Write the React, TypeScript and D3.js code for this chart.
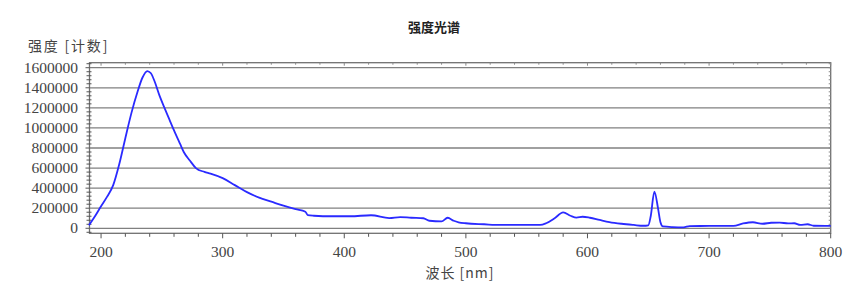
import React from "react";
import * as d3 from "d3";

const wavelengths = [190, 195, 200, 205, 210, 215, 220, 225, 230, 234, 238, 241, 244, 248, 252, 256, 260, 265, 268, 273, 278, 285, 290, 300, 310, 320, 330, 340, 350, 360, 368, 370, 375, 390, 405, 422, 437, 446, 455, 465, 470, 480, 485, 490, 494, 500, 515, 528, 545, 561, 566, 573, 580, 586, 591, 596, 602, 610, 618, 628, 638, 646, 650, 652, 655, 658, 660, 662, 670, 679, 684, 700, 720, 728, 736, 744, 751, 758, 765, 770, 775, 781, 786, 800];
const intensities = [30000, 120000, 220000, 315000, 430000, 640000, 900000, 1150000, 1360000, 1500000, 1567000, 1545000, 1465000, 1325000, 1205000, 1090000, 975000, 840000, 760000, 675000, 600000, 562000, 545000, 500000, 430000, 360000, 305000, 265000, 225000, 190000, 165000, 130000, 125000, 120000, 120000, 130000, 102000, 112000, 105000, 100000, 75000, 68000, 105000, 75000, 60000, 50000, 40000, 33000, 33000, 33000, 50000, 100000, 158000, 125000, 106000, 115000, 105000, 83000, 62000, 45000, 33000, 25000, 30000, 120000, 365000, 200000, 60000, 18000, 12000, 10000, 22000, 23000, 24000, 48000, 60000, 45000, 55000, 57000, 48000, 50000, 33000, 40000, 25000, 23000];

const yTicks = [0, 200000, 400000, 600000, 800000, 1000000, 1200000, 1400000, 1600000];
const xTicks = [200, 300, 400, 500, 600, 700, 800];
const title = "强度光谱";
const yLabel = "强度 [计数]";
const xLabel = "波长 [nm]";

export default function App() {
  const W = 864, H = 292;
  const left = 89.5, right = 830.7, top = 62.7, bottom = 233.3;
  const x = d3.scaleLinear().domain([190.5, 800]).range([left, right]);
  const y = d3.scaleLinear().domain([-50000, 1650000]).range([bottom, top]);
  const pts: [number, number][] = wavelengths.map((w, i) => [w, intensities[i]]);
  const line = d3.line<[number, number]>().x(d => x(d[0])).y(d => y(d[1])).curve(d3.curveMonotoneX);
  const xMinor = d3.range(200, 801, 20);
  const yMinor = d3.range(-40000, 1650001, 40000);
  const frame = "#707070";
  const numFont = "'Liberation Serif', serif";
  const cjk = "'Noto Sans CJK SC', sans-serif";
  return (
    <svg width={W} height={H} style={{ position: "absolute", left: 0, top: 0, background: "#fff" }}>
      <text x={434} y={32} textAnchor="middle" fontFamily={cjk} fontWeight="bold" fontSize={13} fill="#222">{title}</text>
      <text x={28} y={51} fontFamily={cjk} fontSize={14} fill="#444" letterSpacing={1.8}>{yLabel}</text>
      {yTicks.map(t => (
        <line key={"g" + t} x1={left} x2={right} y1={y(t)} y2={y(t)} stroke="#808080" strokeWidth={1.3} />
      ))}
      <rect x={left} y={top} width={right - left} height={bottom - top} fill="none" stroke={frame} strokeWidth={1.3} />
      {xMinor.map(t => {
        const major = t % 100 === 0;
        return (
          <g key={"x" + t}>
            <line x1={x(t)} x2={x(t)} y1={bottom} y2={bottom + (major ? 5 : 3.5)} stroke="#555" strokeWidth={1} />
            <line x1={x(t)} x2={x(t)} y1={top} y2={top + (major ? 3 : 2)} stroke="#888" strokeWidth={1} />
          </g>
        );
      })}
      {yMinor.map(t => {
        const major = t % 200000 === 0;
        return (
          <g key={"y" + t}>
            <line x1={left - (major ? 4 : 3)} x2={left + (major ? 0 : 2)} y1={y(t)} y2={y(t)} stroke="#555" strokeWidth={1} />
            <line x1={right - 2} x2={right} y1={y(t)} y2={y(t)} stroke="#888" strokeWidth={1} />
          </g>
        );
      })}
      {yTicks.map(t => (
        <text key={"yl" + t} x={78} y={y(t) + 5} textAnchor="end" fontFamily={numFont} fontSize={15.5} fill="#444">{t}</text>
      ))}
      {xTicks.map(t => (
        <text key={"xl" + t} x={x(t)} y={256.5} textAnchor="middle" fontFamily={numFont} fontSize={15.5} fill="#444">{t}</text>
      ))}
      <text x={460} y={278} textAnchor="middle" fontFamily={cjk} fontSize={14} fill="#444" letterSpacing={1}>{xLabel}</text>
      <path d={line(pts) || ""} fill="none" stroke="#2a2aff" strokeWidth={1.8} />
    </svg>
  );
}
